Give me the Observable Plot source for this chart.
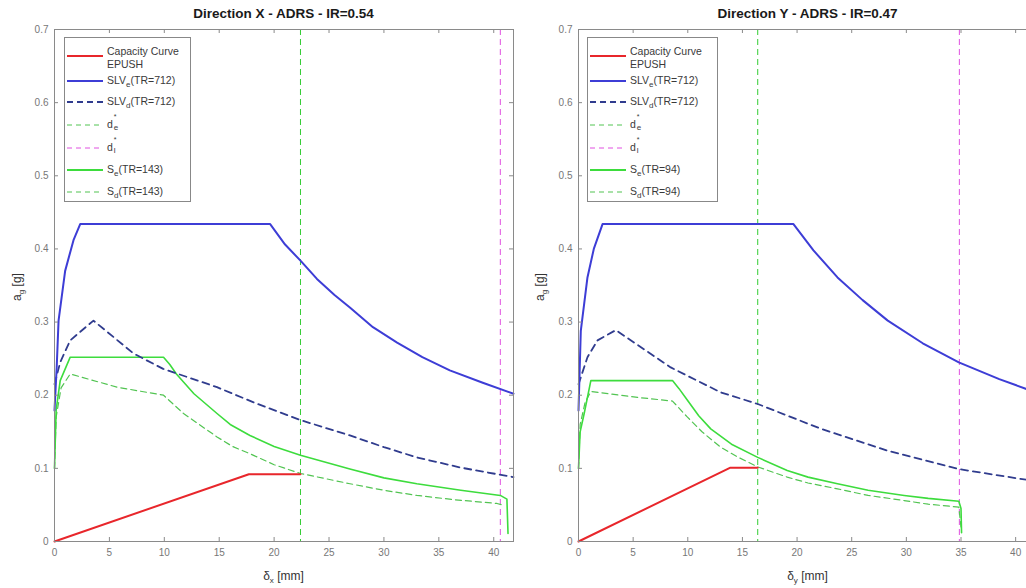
<!DOCTYPE html>
<html><head><meta charset="utf-8">
<script src="https://cdn.jsdelivr.net/npm/d3@7"></script>
<script src="https://cdn.jsdelivr.net/npm/@observablehq/plot@0.6"></script>
<style>
body{margin:0;background:#fff;}
#wrap{position:relative;width:1026px;height:588px;overflow:hidden;font-family:Arial,"Liberation Sans",sans-serif;background:#fff;}
.chart{position:absolute;top:0;}
.title{position:absolute;top:6px;font-weight:bold;font-size:13.5px;color:#1a1a1a;transform:translateX(-50%);white-space:nowrap;}
.xlab{position:absolute;top:569px;font-size:12px;color:#333;transform:translateX(-50%);white-space:nowrap;}
.ylab{position:absolute;font-size:12px;color:#333;white-space:nowrap;transform:translate(-50%,-50%) rotate(-90deg);}
sub{font-size:8px;vertical-align:-3px;}
.legend{position:absolute;top:37px;height:165px;border:1px solid #888;background:#fff;box-sizing:border-box;}
.row{position:absolute;left:0;font-size:10.5px;color:#3a3a3a;white-space:nowrap;}
.row svg{position:absolute;left:2px;}
.row .t{position:absolute;}
.ss{position:relative;display:inline-block;width:6px;height:10px;}
.ss .up{position:absolute;left:1px;top:-5px;font-size:7px;line-height:7px;}
.ss .dn{position:absolute;left:1px;top:6px;font-size:8px;line-height:8px;}
</style></head>
<body><div id="wrap"></div>
<script>
// ---- Direction X data ----
const xCapX = [0, 17.7, 22.4];
const xCapY = [0, 0.092, 0.092];
const xSLVeX = [0, 0.2, 0.37, 0.97, 1.73, 2.34, 19.64, 21.0, 22.4, 23.9, 25.5, 26.9, 29.0, 31.2, 33.5, 36.0, 39.0, 41.8];
const xSLVeY = [0.179, 0.238, 0.302, 0.37, 0.412, 0.434, 0.434, 0.406, 0.384, 0.359, 0.337, 0.320, 0.293, 0.272, 0.252, 0.234, 0.217, 0.202];
const xSLVdX = [0, 0.52, 1.43, 3.55, 7.2, 9.9, 14.8, 18.5, 22.4, 26.9, 30.0, 33.0, 37.0, 41.8];
const xSLVdY = [0.215, 0.245, 0.275, 0.302, 0.257, 0.236, 0.211, 0.188, 0.166, 0.145, 0.129, 0.115, 0.101, 0.088];
const xSeX = [0, 0.15, 0.52, 1.43, 9.93, 10.5, 11.1, 12.7, 14.8, 16.0, 17.8, 20.0, 22.4, 26.9, 30.0, 33.0, 37.0, 40.6, 41.2, 41.3];
const xSeY = [0.10, 0.18, 0.22, 0.252, 0.252, 0.242, 0.229, 0.202, 0.175, 0.160, 0.145, 0.130, 0.118, 0.099, 0.087, 0.079, 0.070, 0.063, 0.058, 0.011];
const xSdX = [0, 0.15, 0.6, 1.43, 5.7, 9.93, 11.75, 14.8, 16.2, 17.8, 20.0, 22.4, 26.9, 30.0, 33.0, 36.5, 40.3, 40.8];
const xSdY = [0.10, 0.17, 0.21, 0.229, 0.211, 0.200, 0.175, 0.143, 0.130, 0.120, 0.105, 0.093, 0.079, 0.070, 0.063, 0.057, 0.052, 0.050];
const xDe = 22.4, xDl = 40.6;

// ---- Direction Y data ----
const yCapX = [0, 13.9, 16.4];
const yCapY = [0, 0.101, 0.101];
const ySLVeX = [0, 0.21, 0.82, 1.4, 2.2, 19.67, 21.5, 23.7, 26.0, 28.3, 31.5, 34.8, 38.5, 42];
const ySLVeY = [0.179, 0.288, 0.361, 0.40, 0.434, 0.434, 0.398, 0.361, 0.330, 0.302, 0.271, 0.245, 0.222, 0.203];
const ySLVdX = [0, 0.82, 1.74, 3.41, 8.44, 13.0, 16.4, 22.2, 28.3, 34.8, 42];
const ySLVdY = [0.215, 0.252, 0.275, 0.289, 0.238, 0.204, 0.188, 0.154, 0.124, 0.099, 0.082];
const ySeX = [0, 0.15, 0.52, 1.13, 8.6, 9.2, 9.97, 11.0, 12.1, 14.0, 16.4, 19.1, 21.0, 23.7, 26.5, 29.8, 32.0, 34.8, 35.0, 35.05];
const ySeY = [0.10, 0.15, 0.175, 0.220, 0.220, 0.209, 0.193, 0.172, 0.154, 0.133, 0.115, 0.097, 0.088, 0.079, 0.070, 0.063, 0.059, 0.055, 0.045, 0.012];
const ySdX = [0, 0.15, 0.6, 1.13, 5.4, 8.6, 9.97, 11.3, 13.0, 14.5, 16.4, 19.1, 21.0, 23.7, 26.5, 29.8, 32.0, 34.8, 35.0];
const ySdY = [0.10, 0.16, 0.19, 0.205, 0.197, 0.192, 0.170, 0.150, 0.129, 0.116, 0.102, 0.088, 0.080, 0.072, 0.063, 0.056, 0.051, 0.047, 0.02];
const yDe = 16.4, yDl = 34.85;

const xTicks = [0, 5, 10, 15, 20, 25, 30, 35, 40];
const yTicks = [0, 0.1, 0.2, 0.3, 0.4, 0.5, 0.6, 0.7];

const C = {red:"#e8262b", blue:"#3d3dd6", navy:"#303c8e", green:"#3ddc3d", green2:"#52c452", mag:"#e050e0", gv:"#33cc33"};

const wrap = document.getElementById("wrap");

function rows(xs, ys){ return xs.map((x,i)=>({x, y: ys[i]})); }

function makeChart(cfg){
  const fmt = d3.format("~g");
  const W = 520, H = 588, mt = 29, mb = 47;
  const plotW = W - cfg.ml - cfg.mr, plotH = H - mt - mb;
  const tk = 4; // inward tick length in px
  const dy = 0.7 * tk / plotH, dx = cfg.xmax * tk / plotW;
  const tickStroke = "#8a8a8a";
  const p = Plot.plot({
    width: W, height: H,
    marginLeft: cfg.ml, marginRight: cfg.mr, marginTop: mt, marginBottom: mb,
    style: {fontFamily: "Arial, 'Liberation Sans', sans-serif", fontSize: "10px", color: "#777", background: "transparent"},
    x: {domain: [0, cfg.xmax], label: null},
    y: {domain: [0, 0.7], label: null},
    marks: [
      Plot.ruleX([cfg.de], {stroke: C.gv, strokeWidth: 1, strokeDasharray: "6,4"}),
      Plot.ruleX([cfg.dl], {stroke: C.mag, strokeWidth: 1, strokeDasharray: "6,4"}),
      Plot.line(rows(cfg.SdX, cfg.SdY), {x:"x", y:"y", stroke: C.green2, strokeWidth: 1.2, strokeDasharray: "6,4"}),
      Plot.line(rows(cfg.SeX, cfg.SeY), {x:"x", y:"y", stroke: C.green, strokeWidth: 1.6}),
      Plot.line(rows(cfg.SLVdX, cfg.SLVdY), {x:"x", y:"y", stroke: C.navy, strokeWidth: 1.8, strokeDasharray: "7,5"}),
      Plot.line(rows(cfg.SLVeX, cfg.SLVeY), {x:"x", y:"y", stroke: C.blue, strokeWidth: 2}),
      Plot.line(rows(cfg.CapX, cfg.CapY), {x:"x", y:"y", stroke: C.red, strokeWidth: 2}),
      // inward ticks (MATLAB box style)
      Plot.ruleX(xTicks, {x: d => d, y1: 0, y2: dy, stroke: tickStroke}),
      Plot.ruleX(xTicks, {x: d => d, y1: 0.7, y2: 0.7 - dy, stroke: tickStroke}),
      Plot.ruleY(yTicks, {y: d => d, x1: 0, x2: dx, stroke: tickStroke}),
      Plot.ruleY(yTicks, {y: d => d, x1: cfg.xmax, x2: cfg.xmax - dx, stroke: tickStroke}),
      Plot.frame({stroke: "#8a8a8a", strokeWidth: 1}),
      Plot.axisX(xTicks, {anchor: "bottom", tickSize: 0, tickPadding: 7, tickFormat: fmt, fill: "#777"}),
      Plot.axisY(yTicks, {anchor: "left", tickSize: 0, tickPadding: 6, tickFormat: fmt, fill: "#777"})
    ]
  });
  p.classList.add("chart");
  p.style.left = cfg.left + "px";
  wrap.appendChild(p);

  const cx = cfg.left + cfg.ml + plotW / 2;
  const t = document.createElement("div");
  t.className = "title"; t.style.left = cx + "px"; t.textContent = cfg.title;
  wrap.appendChild(t);
  const xl = document.createElement("div");
  xl.className = "xlab"; xl.style.left = cx + "px";
  xl.innerHTML = "δ<sub>" + cfg.axis + "</sub> [mm]";
  wrap.appendChild(xl);
  const yl = document.createElement("div");
  yl.className = "ylab"; yl.style.left = cfg.ylabX + "px"; yl.style.top = "287px";
  yl.innerHTML = "a<sub>g</sub> [g]";
  wrap.appendChild(yl);

  // legend
  const lg = document.createElement("div");
  lg.className = "legend";
  lg.style.left = cfg.lgLeft + "px"; lg.style.width = cfg.lgW + "px";
  const items = [
    {y: 18, c: C.red, w: 2, d: null, h: "Capacity Curve<br>EPUSH", two: true},
    {y: 43, c: C.blue, w: 2, d: null, h: "SLV<sub>e</sub>(TR=712)"},
    {y: 64, c: C.navy, w: 1.8, d: "6,4", h: "SLV<sub>d</sub>(TR=712)"},
    {y: 87, c: C.green2, w: 1, d: "5,4", h: "d<span class='ss'><span class='up'>*</span><span class='dn'>e</span></span>"},
    {y: 110, c: C.mag, w: 1, d: "5,4", h: "d<span class='ss'><span class='up'>*</span><span class='dn'>l</span></span>"},
    {y: 132, c: C.green, w: 2, d: null, h: "S<sub>e</sub>(TR=" + cfg.tr + ")"},
    {y: 154, c: C.green2, w: 1.2, d: "5,4", h: "S<sub>d</sub>(TR=" + cfg.tr + ")"}
  ];
  for (const it of items) {
    const r = document.createElement("div");
    r.className = "row"; r.style.top = (it.y) + "px";
    const dash = it.d ? ` stroke-dasharray="${it.d}"` : "";
    r.innerHTML = `<svg width="38" height="4" style="top:-2px"><line x1="0" y1="2" x2="36" y2="2" stroke="${it.c}" stroke-width="${it.w}"${dash}/></svg>` +
      `<span class="t" style="left:${cfg.txtOff}px;top:${it.two ? -11 : -7}px;line-height:13px">${it.h}</span>`;
    lg.appendChild(r);
  }
  wrap.appendChild(lg);
}

makeChart({left: 0, ml: 54, mr: 7, xmax: 41.8, axis: "x", title: "Direction X - ADRS - IR=0.54", ylabX: 18,
  CapX: xCapX, CapY: xCapY, SLVeX: xSLVeX, SLVeY: xSLVeY, SLVdX: xSLVdX, SLVdY: xSLVdY,
  SeX: xSeX, SeY: xSeY, SdX: xSdX, SdY: xSdY, de: xDe, dl: xDl,
  lgLeft: 64, lgW: 127, txtOff: 42, tr: 143});
makeChart({left: 520, ml: 58, mr: 3, xmax: 42, axis: "y", title: "Direction Y - ADRS - IR=0.47", ylabX: 541,
  CapX: yCapX, CapY: yCapY, SLVeX: ySLVeX, SLVeY: ySLVeY, SLVdX: ySLVdX, SLVdY: ySLVdY,
  SeX: ySeX, SeY: ySeY, SdX: ySdX, SdY: ySdY, de: yDe, dl: yDl,
  lgLeft: 587, lgW: 131, txtOff: 42, tr: 94});
</script></body></html>
